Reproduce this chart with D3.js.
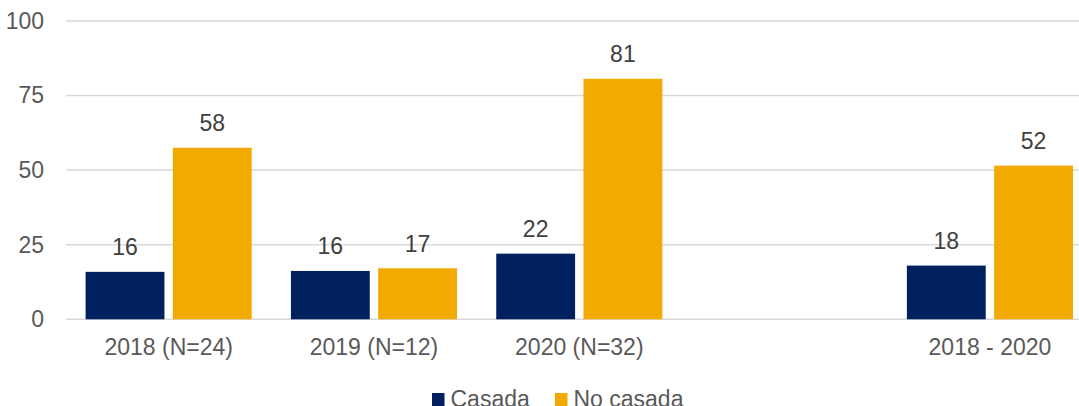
<!DOCTYPE html>
<html>
<head>
<meta charset="utf-8">
<script src="https://cdn.jsdelivr.net/npm/d3@7"></script>
<style>
  html, body { margin: 0; padding: 0; background: #fff; overflow: hidden; }
  svg { display: block; font-family: "Liberation Sans", Arial, sans-serif; }
</style>
</head>
<body>
<svg id="chart" width="1079" height="406"></svg>
<script>
// ---- data ----
const categories = ["2018 (N=24)", "2019 (N=12)", "2020 (N=32)", "", "2018 - 2020"];
const seriesNames = ["Casada", "No casada"];
const casada   = [15.9, 16.2, 22.0, null, 18.0];
const noCasada = [57.5, 17.1, 80.6, null, 51.5];
const yTicks = [0, 25, 50, 75, 100];
const colors = ["#002060", "#F2A900"];

// ---- layout ----
const W = 1079, H = 406;
const plotLeft = 66, plotRight = 1092.6, plotTop = 20.9, plotBottom = 319.3;

const svg = d3.select("#chart");

const y = d3.scaleLinear().domain([0, 100]).range([plotBottom, plotTop]);
const x0 = d3.scaleBand().domain(categories.map((c, i) => i))
  .range([plotLeft, plotRight]).paddingInner(0.191).paddingOuter(0.0955);
const x1 = d3.scaleBand().domain(seriesNames).range([0, x0.bandwidth()]).paddingInner(0.0964);
const color = d3.scaleOrdinal().domain(seriesNames).range(colors);

// gridlines
svg.append("g").selectAll("line").data(yTicks).join("line")
  .attr("x1", plotLeft).attr("x2", W)
  .attr("y1", d => y(d)).attr("y2", d => y(d))
  .attr("stroke", "#d9d9d9").attr("stroke-width", 1.5);

// y axis labels
const yAxis = d3.axisLeft(y).tickValues(yTicks).tickSize(0).tickPadding(0);
const gy = svg.append("g").attr("transform", `translate(44,0)`).call(yAxis);
gy.select(".domain").remove();
gy.selectAll("text").attr("font-size", 23).attr("fill", "#595959")
  .attr("font-family", "Liberation Sans, Arial, sans-serif");

// x axis labels
const xAxis = d3.axisBottom(x0).tickFormat(i => categories[i]).tickSize(0).tickPadding(0);
const gx = svg.append("g").attr("transform", `translate(0,${plotBottom})`).call(xAxis);
gx.select(".domain").remove();
gx.selectAll("text").attr("font-size", 23).attr("fill", "#595959")
  .attr("dy", null).attr("y", 36)
  .attr("font-family", "Liberation Sans, Arial, sans-serif");

// bars
const rows = categories.map((c, i) => ({
  i, values: [{ s: seriesNames[0], v: casada[i] }, { s: seriesNames[1], v: noCasada[i] }]
}));
const groups = svg.append("g").selectAll("g").data(rows).join("g")
  .attr("transform", d => `translate(${x0(d.i)},0)`);

const vals = groups.selectAll("g").data(d => d.values.filter(e => e.v != null)).join("g");
vals.append("rect")
  .attr("x", d => x1(d.s)).attr("width", x1.bandwidth())
  .attr("y", d => y(d.v)).attr("height", d => y(0) - y(d.v))
  .attr("fill", d => color(d.s));
vals.append("text")
  .attr("x", d => x1(d.s) + x1.bandwidth() / 2)
  .attr("y", d => y(d.v) - 16.5)
  .attr("text-anchor", "middle").attr("font-size", 23).attr("fill", "#404040")
  .text(d => d3.format(".0f")(d.v));

// legend
const legendX = [432, 555];
const lg = svg.append("g").selectAll("g").data(seriesNames).join("g")
  .attr("transform", (d, i) => `translate(${legendX[i]},393)`);
lg.append("rect").attr("width", 12.5).attr("height", 13).attr("fill", d => color(d));
lg.append("text").attr("x", 18.5).attr("y", 14).attr("font-size", 23).attr("fill", "#595959")
  .text(d => d);
</script>
</body>
</html>
